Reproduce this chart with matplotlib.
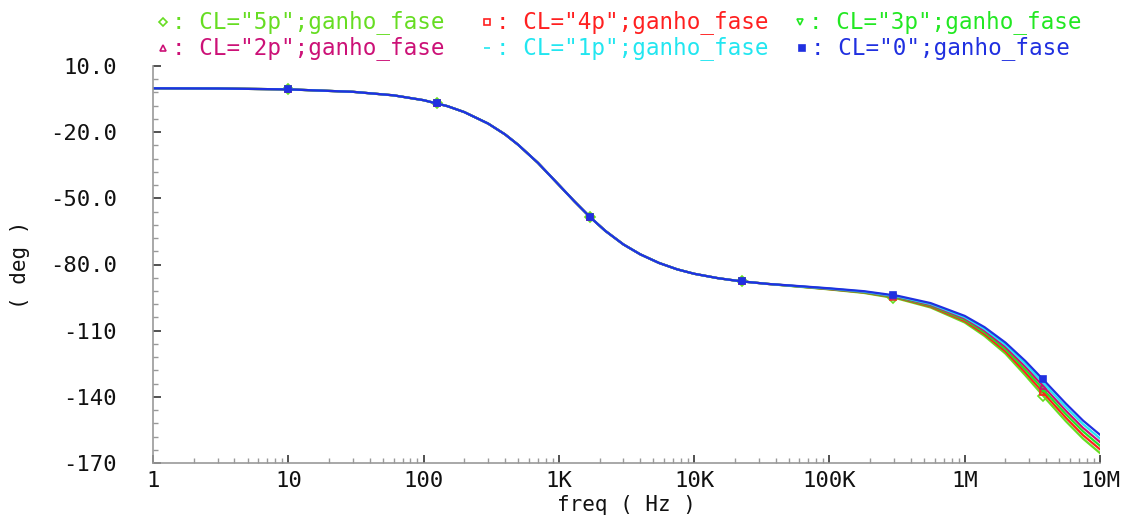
"""Phase response (ganho_fase) vs frequency for several load capacitances."""
import matplotlib
matplotlib.use("Agg")
import matplotlib.pyplot as plt
from matplotlib.lines import Line2D
from matplotlib.ticker import FixedLocator, LogLocator, NullFormatter
import numpy as np

plt.rcParams["font.family"] = ["DejaVu Sans Mono", "DejaVu Sans"]

# frequency grid (Hz); low part shared by all curves, tail differs per CL
freq_low = [1, 3, 10, 30, 60, 100, 150, 200, 300, 400, 500, 700, 1000, 1300,
            1700, 2200, 3000, 4000, 5500, 7500, 1e4, 1.5e4, 2.2e4, 3.5e4]
phase_low = [-0.1, -0.2, -0.6, -1.7, -3.3, -5.5, -8.2, -10.9, -16.1, -21.0,
             -25.7, -33.9, -43.9, -51.3, -58.5, -64.7, -70.9, -75.4, -79.3,
             -82.2, -84.2, -86.2, -87.6, -88.8]
freq_tail = [6e4, 1e5, 1.8e5, 3.2e5, 5.6e5, 1e6, 1.4e6, 2e6, 2.8e6, 4e6,
             5.6e6, 7.5e6, 1e7]
tail_5p = [-90.1, -91.3, -92.9, -95.5, -99.5, -106.3, -112.4, -120.4, -130.2,
           -141.1, -151.1, -159.0, -165.5]
tail_4p = [-90.0, -91.2, -92.7, -95.2, -99.1, -105.7, -111.6, -119.4, -128.9,
           -139.6, -149.5, -157.4, -163.8]
tail_3p = [-90.0, -91.1, -92.6, -95.0, -98.7, -105.1, -110.8, -118.4, -127.6,
           -138.1, -147.9, -155.7, -162.2]
tail_2p = [-89.9, -91.0, -92.4, -94.7, -98.3, -104.5, -110.0, -117.4, -126.3,
           -136.6, -146.3, -154.1, -160.5]
tail_1p = [-89.9, -90.9, -92.3, -94.5, -97.9, -103.9, -109.2, -116.4, -125.0,
           -135.1, -144.7, -152.4, -158.9]
tail_0 = [-89.8, -90.8, -92.1, -94.2, -97.5, -103.3, -108.4, -115.4, -123.7,
          -133.6, -143.1, -150.8, -157.2]

# marker points (same first four for all curves)
mk_freq = [10, 126, 1700, 22600, 295000, 3.78e6]
mk_low = [-0.6, -6.9, -58.5, -87.6]
mk_5p = [-95.1, -139.5]
mk_4p = [-94.8, -138.0]
mk_3p = [-94.6, -136.5]
mk_2p = [-94.4, -135.0]
mk_1p = [-94.1, -133.5]
mk_0 = [-93.9, -132.0]

labels = ['CL="5p";ganho_fase', 'CL="4p";ganho_fase', 'CL="3p";ganho_fase',
          'CL="2p";ganho_fase', 'CL="1p";ganho_fase', 'CL="0";ganho_fase']
tails = [tail_5p, tail_4p, tail_3p, tail_2p, tail_1p, tail_0]
mks = [mk_5p, mk_4p, mk_3p, mk_2p, mk_1p, mk_0]
colors = ["#66dd22", "#ff2020", "#22e822", "#cc1177", "#22e6f0", "#2030e0"]
markers = ["D", "s", "v", "^", "_", "s"]
filled = [False, False, False, False, True, True]

yticks = [10, -20, -50, -80, -110, -140, -170]
ytick_labels = ["10.0", "-20.0", "-50.0", "-80.0", "-110", "-140", "-170"]
xticks = [1, 10, 100, 1e3, 1e4, 1e5, 1e6, 1e7]
xtick_labels = ["1", "10", "100", "1K", "10K", "100K", "1M", "10M"]

W, H = 1143, 521
fig = plt.figure(figsize=(W / 100, H / 100), dpi=100)
ax = fig.add_axes([153 / W, 1 - 463 / H, (1100 - 153) / W, (463 - 66) / H])

for lab, tail, mk, c, m, f in zip(labels, tails, mks, colors, markers, filled):
    ax.plot(freq_low + freq_tail, phase_low + tail, color=c, lw=1.6)
    ax.plot(mk_freq, mk_low + mk, ls="none", marker=m, ms=5, mew=1.2,
            color=c, mfc=c if f else "none")

ax.set_xscale("log")
ax.set_xlim(1, 1e7)
ax.set_ylim(-170, 10)
ax.xaxis.set_major_locator(FixedLocator(xticks))
ax.set_xticklabels(xtick_labels)
ax.xaxis.set_minor_locator(LogLocator(base=10, subs=np.arange(2, 10)))
ax.xaxis.set_minor_formatter(NullFormatter())
ax.set_yticks(yticks)
ax.set_yticklabels(ytick_labels)
ax.yaxis.set_minor_locator(FixedLocator(np.arange(10, -171, -6)))

ax.tick_params(which="major", direction="in", length=6, width=1.2,
               color="#333", labelsize=16, labelcolor="#111")
ax.tick_params(which="minor", direction="in", length=3.5, width=1, color="#999")
ax.tick_params(axis="y", pad=26)
ax.tick_params(axis="x", pad=6)

for s in ["top", "right"]:
    ax.spines[s].set_visible(False)
for s in ["left", "bottom"]:
    ax.spines[s].set_color("#999")
    ax.spines[s].set_linewidth(1.2)

ax.set_xlabel("freq ( Hz )", fontsize=15, color="#111")
ax.xaxis.set_label_coords(0.5, -0.08)
ax.set_ylabel("( deg )", fontsize=15, color="#111")
ax.yaxis.set_label_coords(-0.13, 0.5)

# legend drawn as figure text with a marker in front of each entry
leg_x = [163, 487, 800, 163, 487, 802]
leg_y = [22, 22, 22, 48, 48, 48]
for lab, c, m, f, lx, ly in zip(labels, colors, markers, filled, leg_x, leg_y):
    fig.add_artist(Line2D([lx / W], [1 - ly / H], transform=fig.transFigure,
                          ls="none", marker=m, ms=4.5, mew=1.2, color=c,
                          mfc=c if f else "none"))
    fig.text((lx + 9) / W, 1 - ly / H, ": " + lab, color=c, fontsize=16.3,
             va="center", ha="left")

fig.savefig("out.png", dpi=100)
plt.close(fig)
